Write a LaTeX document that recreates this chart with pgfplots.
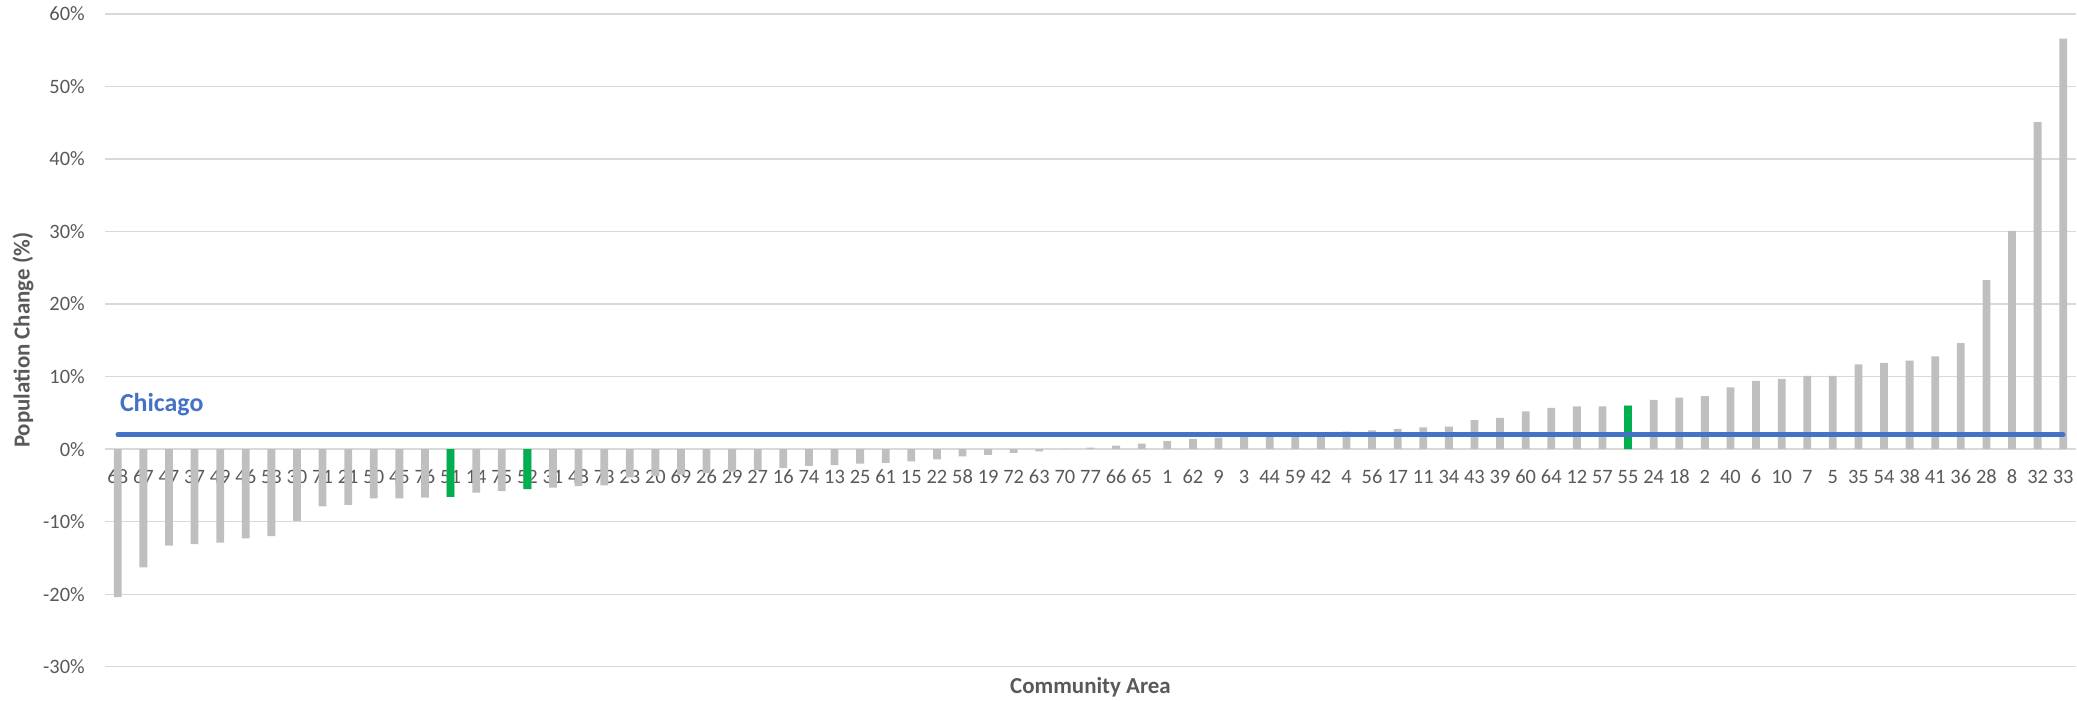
\documentclass[border=0pt]{standalone}
\usepackage{fontspec}
\setmainfont{Carlito}
\usepackage{pgfplots}
\usepackage{pgfplotstable}
\pgfplotsset{compat=1.18}
\pgfplotsset{
  layers/labelsontop/.define layer set={
    axis background,axis grid,main,axis ticks,axis lines,axis tick labels,
    axis descriptions,axis foreground
  }{},
}
\definecolor{bargray}{HTML}{BFBFBF}
\definecolor{bargreen}{HTML}{00B050}
\definecolor{chiblue}{HTML}{4472C4}
\definecolor{txtgray}{HTML}{595959}
\definecolor{gridgray}{HTML}{D9D9D9}

\pgfplotstableread{
idx area change
0 68 -20.4
1 67 -16.3
2 47 -13.3
3 37 -13.1
4 49 -12.9
5 46 -12.3
6 53 -12.0
7 30 -9.9
8 71 -7.9
9 21 -7.7
10 50 -6.8
11 45 -6.8
12 76 -6.7
13 51 -6.6
14 14 -6.0
15 75 -5.8
16 52 -5.5
17 31 -5.3
18 48 -5.1
19 73 -5.0
20 23 -3.9
21 20 -3.7
22 69 -3.5
23 26 -3.3
24 29 -3.1
25 27 -2.9
26 16 -2.6
27 74 -2.3
28 13 -2.2
29 25 -2.0
30 61 -1.9
31 15 -1.7
32 22 -1.4
33 58 -1.0
34 19 -0.8
35 72 -0.5
36 63 -0.3
37 70 0.05
38 77 0.2
39 66 0.5
40 65 0.75
41 1 1.1
42 62 1.4
43 9 1.6
44 3 1.7
45 44 1.8
46 59 2.0
47 42 2.25
48 4 2.4
49 56 2.6
50 17 2.8
51 11 3.0
52 34 3.1
53 43 4.0
54 39 4.3
55 60 5.2
56 64 5.7
57 12 5.9
58 57 5.9
59 55 6.0
60 24 6.8
61 18 7.1
62 2 7.3
63 40 8.5
64 6 9.4
65 10 9.7
66 7 10.1
67 5 10.1
68 35 11.7
69 54 11.9
70 38 12.2
71 41 12.8
72 36 14.6
73 28 23.3
74 8 30.1
75 32 45.1
76 33 56.6
}\areadata

\pgfplotstableread{
idx area change
13 51 -6.6
16 52 -5.5
59 55 6.0
}\greendata

\begin{document}
\begin{tikzpicture}
\begin{axis}[
  name=ax,
  set layers=labelsontop,
  scale only axis,
  width=1971bp, height=652.7bp,
  xmin=-0.5, xmax=76.5,
  ymin=-30, ymax=60,
  ybar, bar width=7.8bp, bar shift=0pt,
  axis line style={draw=none},
  tick style={draw=none},
  ymajorgrids,
  grid style={gridgray, line width=1.3bp},
  ytick={-30,-20,...,60},
  yticklabels={-30\%,-20\%,-10\%,0\%,10\%,20\%,30\%,40\%,50\%,60\%},
  xtick={0,...,76},
  xticklabels from table={\areadata}{area},
  tick label style={font=\fontsize{20.5}{22}\selectfont, text=txtgray, inner sep=0pt},
  xticklabel style={anchor=center, yshift=194bp},
  yticklabel style={anchor=east, xshift=-20bp},
  xlabel={Community Area},
  xlabel style={at={(axis description cs:0.5,-0.0322)}, anchor=center,
    font=\bfseries\fontsize{23}{25}\selectfont, text=txtgray, inner sep=0pt},
  ylabel={Population Change (\%)},
  ylabel style={at={(axis description cs:-0.0416,0.5)}, anchor=center,
    font=\bfseries\fontsize{23}{25}\selectfont, text=txtgray, inner sep=0pt},
]
\addplot[draw=none, fill=bargray] table[x=idx, y=change] {\areadata};
\addplot[draw=none, fill=bargreen] table[x=idx, y=change] {\greendata};
\addplot[sharp plot, chiblue, line width=4.5bp, line cap=round, mark=none]
  coordinates {(0,2.0) (76,2.0)};
\node[anchor=base west, inner sep=0pt, xshift=2bp, text=chiblue,
  font=\bfseries\fontsize{26}{28}\selectfont] at (axis cs:0,5.2) {Chicago};
\end{axis}
\pgfresetboundingbox
\path ([xshift=-105bp,yshift=-34bp]ax.south west) rectangle ([xshift=1bp,yshift=14bp]ax.north east);
\end{tikzpicture}
\end{document}
